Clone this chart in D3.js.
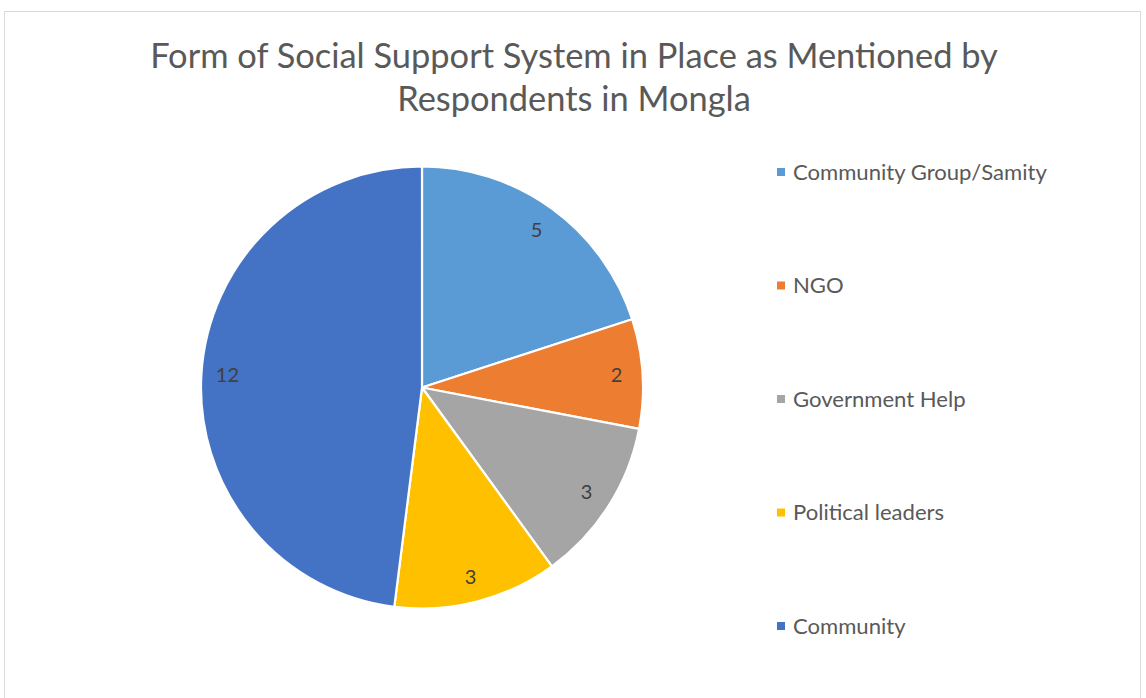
<!DOCTYPE html>
<html><head><meta charset="utf-8">
<script src="https://cdn.jsdelivr.net/npm/d3@7"></script>
<style>html,body{margin:0;padding:0;background:#fff;}svg{display:block;}</style>
</head><body>
<svg id="c" width="1146" height="698"></svg>
<script>
const categories = ["Community Group/Samity", "NGO", "Government Help", "Political leaders", "Community"];
const values = [5, 2, 3, 3, 12];
const colors = ["#5B9BD5", "#ED7D31", "#A5A5A5", "#FFC000", "#4472C4"];
const titleLines = ["Form of Social Support System in Place as Mentioned by", "Respondents in Mongla"];

const svg = d3.select("#c");
const FONT = "Lato, 'Open Sans', sans-serif";

svg.append("rect").attr("x", 4.5).attr("y", 11.5).attr("width", 1136).attr("height", 700)
  .attr("fill", "#fff").attr("stroke", "#d9d9d9").attr("stroke-width", 1);

function fitSize(text, targetW, base, weight) {
  const t = svg.append("text").attr("font-family", FONT).attr("font-size", base)
    .attr("font-weight", weight || 400).text(text);
  const w = t.node().getComputedTextLength();
  t.remove();
  return base * targetW / w;
}

// Title
const tSize = fitSize(titleLines[0], 848, 30, 400);
svg.append("g").selectAll("text").data(titleLines).join("text")
  .attr("x", 574).attr("y", (d, i) => 68 + i * 42.5)
  .attr("text-anchor", "middle").attr("font-family", FONT).attr("font-weight", 400)
  .attr("font-size", tSize).attr("fill", "#595959").text(d => d);

// Pie
const cx = 422, cy = 387.5, r = 221;
const pie = d3.pie().sort(null).value(d => d.v);
const data = pie(categories.map((c, i) => ({c, v: values[i], col: colors[i]})));
const arc = d3.arc().innerRadius(0).outerRadius(r);
const labelArc = d3.arc().innerRadius(195).outerRadius(195);
const g = svg.append("g").attr("transform", `translate(${cx},${cy})`);
g.selectAll("path").data(data).join("path")
  .attr("d", arc).attr("fill", d => d.data.col)
  .attr("stroke", "#fff").attr("stroke-width", 2.2).attr("stroke-linejoin", "round");
g.selectAll("text").data(data).join("text")
  .attr("transform", d => `translate(${labelArc.centroid(d)})`)
  .attr("text-anchor", "middle").attr("dy", "0.36em")
  .attr("font-family", FONT).attr("font-size", 20).attr("fill", "#404040")
  .text(d => d.data.v);

// Legend
const lSize = fitSize(categories[0], 254, 20);
const ly = d3.scalePoint().domain(categories).range([172, 626]);
const lg = svg.append("g").selectAll("g").data(categories).join("g")
  .attr("transform", d => `translate(777,${ly(d)})`);
lg.append("rect").attr("x", 0).attr("y", -4).attr("width", 8).attr("height", 8)
  .attr("fill", (d, i) => colors[i]);
lg.append("text").attr("x", 16).attr("dy", "0.35em")
  .attr("font-family", FONT).attr("font-size", lSize).attr("fill", "#595959").text(d => d);
</script>
</body></html>
